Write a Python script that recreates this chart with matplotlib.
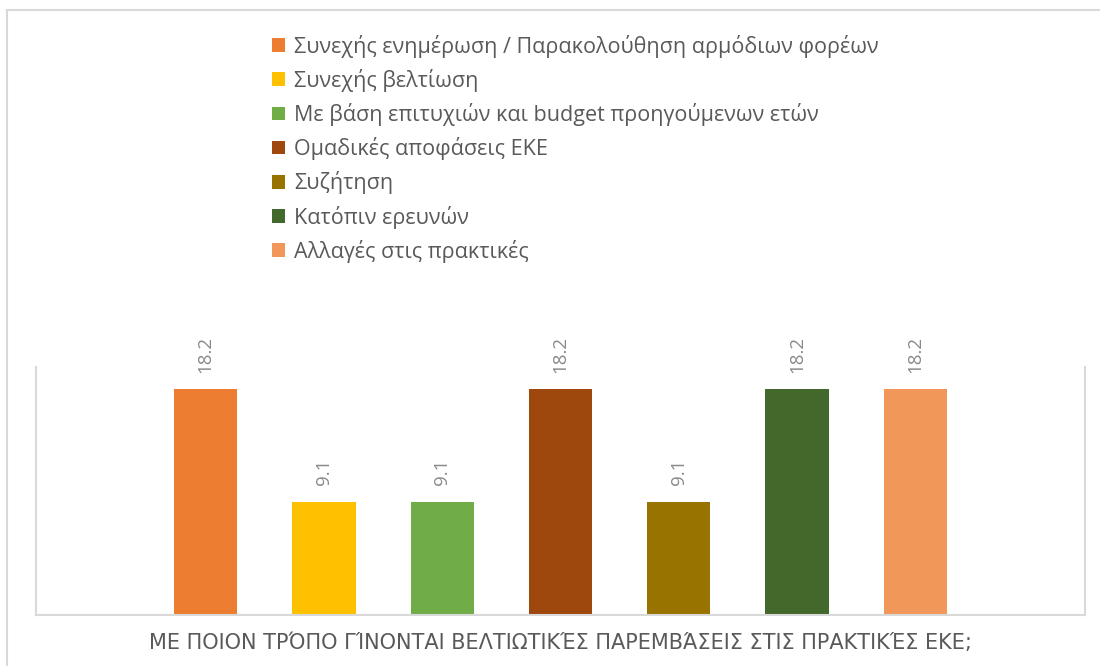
import matplotlib
matplotlib.use("Agg")
import matplotlib.pyplot as plt
from matplotlib.patches import Rectangle, Patch

plt.rcParams['font.family'] = ['Open Sans', 'DejaVu Sans']

#%% data
series = ['Συνεχής ενημέρωση / Παρακολούθηση αρμόδιων φορέων',
          'Συνεχής βελτίωση',
          'Με βάση επιτυχιών και budget προηγούμενων ετών',
          'Ομαδικές αποφάσεις ΕΚΕ',
          'Συζήτηση',
          'Κατόπιν ερευνών',
          'Αλλαγές στις πρακτικές']
values = [18.2, 9.1, 9.1, 18.2, 9.1, 18.2, 18.2]
colors = ['#ED7D31', '#FFC000', '#70AD47', '#9E480E', '#997300', '#43682B', '#F1975A']
axis_title = 'ΜΕ ΠΟΙΟΝ ΤΡΌΠΟ ΓΊΝΟΝΤΑΙ ΒΕΛΤΙΩΤΙΚΈΣ ΠΑΡΕΜΒΆΣΕΙΣ ΣΤΙΣ ΠΡΑΚΤΙΚΈΣ ΕΚΕ;'

#%% figure
fig = plt.figure(figsize=(11, 6.66), dpi=100)
ax = fig.add_axes([0.0327, 0.0766, 0.9537, 0.3724])

xs = range(len(values))
bars = ax.bar(xs, values, width=0.534, color=colors)
ax.bar_label(bars, labels=[f'{v:.1f}' for v in values], rotation=90,
             padding=12, color='#898989', fontsize=13.5)

ax.set_xlim(-1.436, len(values) - 1 + 1.436)
ax.set_ylim(0, 20)
ax.set_xticks([])
ax.set_yticks([])
for s in ['left', 'bottom', 'right']:
    ax.spines[s].set_color('#D9D9D9')
    ax.spines[s].set_linewidth(1.5)
ax.spines['top'].set_visible(False)

# axis title under the plot
fig.text(0.5095, 1 - 643 / 666, axis_title, ha='center', va='center',
         fontsize=15, color='#595959', family=['DejaVu Sans'])

# legend
handles = [Patch(facecolor=c, edgecolor='none') for c in colors]
leg = fig.legend(handles, series, loc='upper left',
                 bbox_to_anchor=(263 / 1100, 1 - 26 / 666),
                 frameon=False, fontsize=15.5, handlelength=0.6,
                 handleheight=0.6, handletextpad=0.45, labelspacing=0.52,
                 borderaxespad=0)
for t in leg.get_texts():
    t.set_color('#595959')

# chart area border
fig.add_artist(Rectangle((7 / 1100, -0.1), 1.2, 1.1 - 10 / 666,
                         transform=fig.transFigure, fill=False,
                         edgecolor='#D9D9D9', linewidth=1.5, clip_on=False))

fig.savefig('out.png', dpi=100)
